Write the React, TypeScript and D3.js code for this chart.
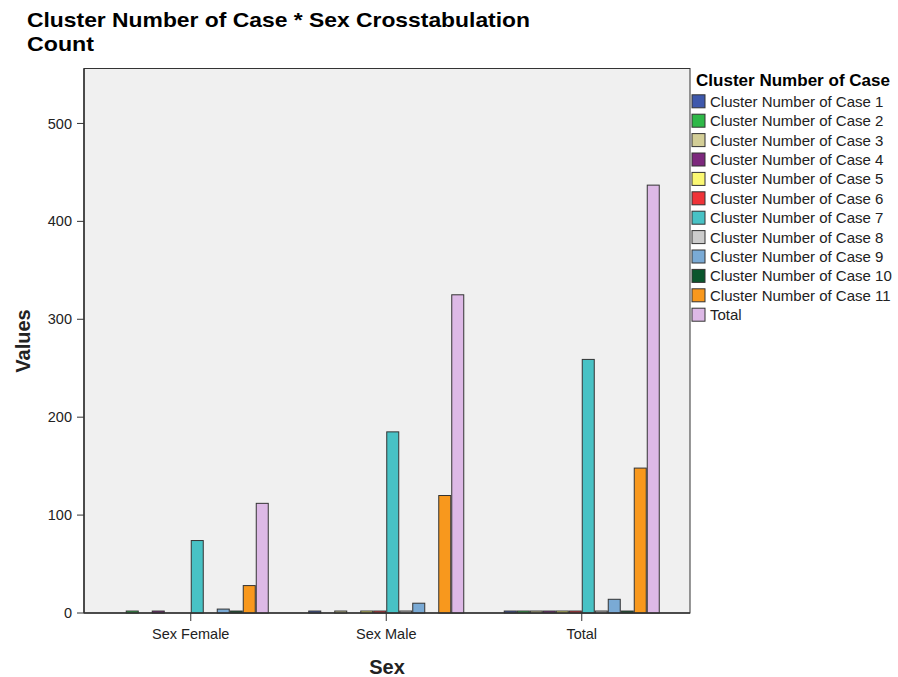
import React from "react";
import * as d3 from "d3";

const categories = ["Sex Female", "Sex Male", "Total"];
const seriesNames = [
  "Cluster Number of Case 1",
  "Cluster Number of Case 2",
  "Cluster Number of Case 3",
  "Cluster Number of Case 4",
  "Cluster Number of Case 5",
  "Cluster Number of Case 6",
  "Cluster Number of Case 7",
  "Cluster Number of Case 8",
  "Cluster Number of Case 9",
  "Cluster Number of Case 10",
  "Cluster Number of Case 11",
  "Total",
];
const seriesColors = [
  "#3E58AC", "#2EB848", "#D3CE97", "#7C287D", "#FBF873", "#EF3338",
  "#48C2C5", "#CCCCCC", "#7AAAD5", "#0A562C", "#F8981D", "#DDB9E6",
];
// values per category, one entry per series
const femaleValues = [0, 2, 0, 2, 0, 0, 74, 0, 4, 2, 28, 112];
const maleValues = [2, 0, 2, 0, 2, 2, 185, 2, 10, 0, 120, 325];
const totalValues = [2, 2, 2, 2, 2, 2, 259, 2, 14, 2, 148, 437];
const yTicks = [0, 100, 200, 300, 400, 500];

const W = 898, H = 677;
const plotL = 84, plotR = 690, plotT = 68.5, plotB = 613;
const FONT = "Arial, 'Liberation Sans', sans-serif";

export default function App() {
  const x0 = d3.scaleBand().domain(categories).range([93, 679.5]).paddingInner(0).paddingOuter(0);
  const groupW = 156;
  const x1 = d3.scaleBand().domain(seriesNames).range([0, groupW]).padding(0);
  const y = d3.scaleLinear().domain([0, 545 / 0.98]).range([plotB, plotT]);
  const cols = [femaleValues, maleValues, totalValues];

  return (
    <svg width={W} height={H} style={{ display: "block", position: "absolute", left: 0, top: 0 }} fontFamily={FONT}>
      <rect x={0} y={0} width={W} height={H} fill="#ffffff" />
      <text x={27} y={27} fontSize={21} fontWeight="bold" fill="#000" textLength={503} lengthAdjust="spacingAndGlyphs">Cluster Number of Case * Sex Crosstabulation</text>
      <text x={27} y={51} fontSize={21} fontWeight="bold" fill="#000" textLength={67} lengthAdjust="spacingAndGlyphs">Count</text>

      <rect x={plotL} y={plotT} width={plotR - plotL} height={plotB - plotT} fill="#F0F0F0" stroke="#333" strokeWidth={1} />

      {categories.map((c, ci) => {
        const cx = (x0(c) as number) + x0.bandwidth() / 2;
        const gx = cx - groupW / 2;
        return (
          <g key={c}>
            {seriesNames.map((s, si) => {
              const v = cols[ci][si];
              if (v <= 0) return null;
              const bx = gx + (x1(s) as number);
              return (
                <rect key={s} x={bx + 0.5} y={y(v)} width={x1.bandwidth() - 1} height={plotB - y(v)}
                  fill={seriesColors[si]} stroke="#333" strokeWidth={1} />
              );
            })}
          </g>
        );
      })}

      {/* axes */}
      <line x1={plotL} x2={plotL} y1={plotT} y2={plotB} stroke="#333" strokeWidth={1.5} />
      <line x1={plotL} x2={plotR} y1={plotB} y2={plotB} stroke="#333" strokeWidth={1.5} />
      {yTicks.map((t) => (
        <g key={t}>
          <line x1={plotL - 7} x2={plotL} y1={y(t)} y2={y(t)} stroke="#333" strokeWidth={1} />
          <text x={plotL - 12} y={y(t)} dy="0.35em" textAnchor="end" fontSize={14.5} fill="#222">{t}</text>
        </g>
      ))}
      {categories.map((c) => {
        const cx = (x0(c) as number) + x0.bandwidth() / 2;
        return (
          <g key={c}>
            <line x1={cx} x2={cx} y1={plotB} y2={plotB + 8} stroke="#333" strokeWidth={1} />
            <text x={cx} y={plotB + 26} textAnchor="middle" fontSize={14.5} fill="#222">{c}</text>
          </g>
        );
      })}
      <text x={387} y={674} textAnchor="middle" fontSize={20} fontWeight="bold" fill="#222">Sex</text>
      <text transform="translate(30,341) rotate(-90)" textAnchor="middle" fontSize={20} fontWeight="bold" fill="#222">Values</text>

      {/* legend */}
      <text x={696} y={86} fontSize={16.5} fontWeight="bold" fill="#000" textLength={194} lengthAdjust="spacingAndGlyphs">Cluster Number of Case</text>
      {seriesNames.map((s, i) => {
        const cy = 101.3 + i * 19.4;
        return (
          <g key={s}>
            <rect x={692} y={cy - 6.5} width={13} height={13} fill={seriesColors[i]} stroke="#333" strokeWidth={1} />
            <text x={710} y={cy} dy="0.36em" fontSize={15} fill="#222">{s}</text>
          </g>
        );
      })}
    </svg>
  );
}
